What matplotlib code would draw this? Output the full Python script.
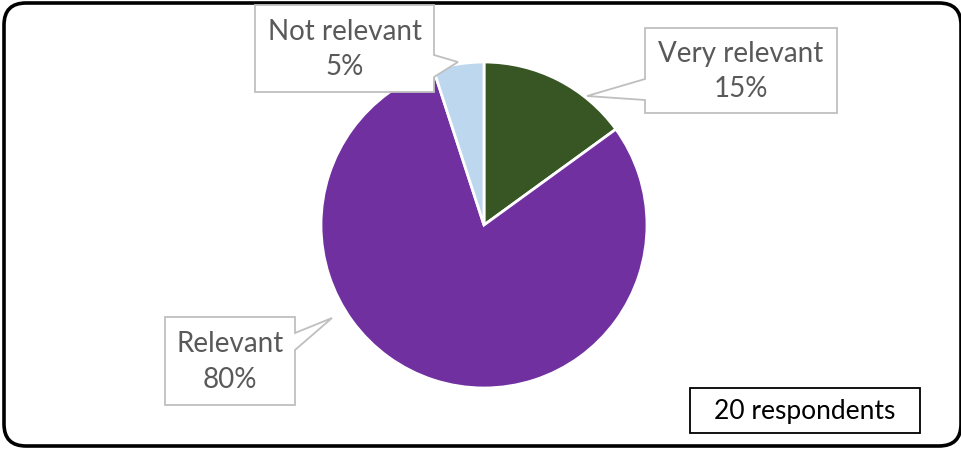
import matplotlib.pyplot as plt
from matplotlib.patches import Polygon, FancyBboxPatch, Rectangle

labels = ["Very relevant", "Relevant", "Not relevant"]
shares = [15, 80, 5]
colors = ["#375623", "#7030A0", "#BDD7EE"]
note = "20 respondents"

W, H = 961, 450
fig = plt.figure(figsize=(W / 100, H / 100), dpi=100)
ax = fig.add_axes([0, 0, 1, 1])

def Y(y):
    # picture rows -> axes y
    return H - y

# pie
ax.pie(shares, colors=colors, startangle=90, counterclock=False,
       center=(484, Y(225)), radius=163, frame=True,
       wedgeprops=dict(edgecolor="white", linewidth=2))
ax.set_xlim(0, W)
ax.set_ylim(0, H)
ax.set_aspect("equal")
ax.axis("off")

# outer rounded border
ax.add_patch(FancyBboxPatch((4, Y(446)), 957, 443, boxstyle="round,pad=0,rounding_size=22",
                            fill=False, edgecolor="black", linewidth=2.6))

# callouts: box corners in picture coords plus the outline with its pointer
def callout(x0, y0, x1, y1, pts, text):
    poly = pts(x0, y0, x1, y1)
    ax.add_patch(Polygon([(x, Y(y)) for x, y in poly], closed=True, facecolor="white",
                         edgecolor="#BFBFBF", linewidth=1.3, zorder=5))
    ax.text((x0 + x1) / 2, Y((y0 + y1) / 2 + 1), text, ha="center", va="center",
            fontsize=20, color="#595959", family="Lato", linespacing=1.45, zorder=6)

pct = {l: f"{l}\n{v}%" for l, v in zip(labels, shares)}

callout(255, 5, 434, 92,
        lambda x0, y0, x1, y1: [(x0, y0), (x1, y0), (x1, 55), (458, 62), (x1, 77), (x1, y1), (x0, y1)],
        pct["Not relevant"])
callout(645, 28, 837, 113,
        lambda x0, y0, x1, y1: [(x0, y0), (x1, y0), (x1, y1), (x0, y1), (x0, 100), (587, 96), (x0, 79)],
        pct["Very relevant"])
callout(165, 317, 295, 405,
        lambda x0, y0, x1, y1: [(x0, y0), (x1, y0), (x1, 333), (332, 318), (x1, 350), (x1, y1), (x0, y1)],
        pct["Relevant"])

# respondents note
ax.add_patch(Rectangle((690, Y(433)), 230, 45, facecolor="white", edgecolor="black", linewidth=1.3, zorder=5))
ax.text(805, Y(411), note, ha="center", va="center", fontsize=19, color="black", family="Lato", zorder=6)

fig.savefig("out.png", dpi=100)
